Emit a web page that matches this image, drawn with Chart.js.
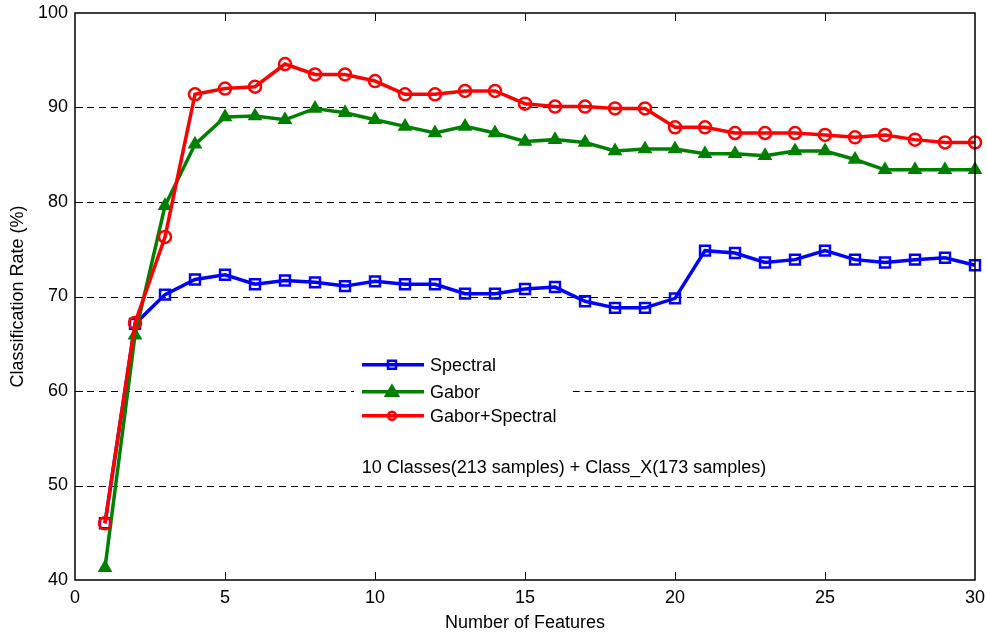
<!DOCTYPE html>
<html>
<head>
<meta charset="utf-8">
<script src="https://cdn.jsdelivr.net/npm/chart.js@4/dist/chart.umd.min.js"></script>
<style>
  html, body { margin: 0; padding: 0; background: #fff; }
  #wrap { width: 987px; height: 634px; }
</style>
</head>
<body>
<div id="wrap"><canvas id="chart" width="987" height="634"></canvas></div>
<script>
// Data
const features = [1,2,3,4,5,6,7,8,9,10,11,12,13,14,15,16,17,18,19,20,21,22,23,24,25,26,27,28,29,30];
const spectral = [46.0,67.1,70.2,71.8,72.3,71.3,71.7,71.5,71.1,71.6,71.3,71.3,70.3,70.3,70.8,71.0,69.5,68.8,68.8,69.8,74.85,74.6,73.6,73.9,74.85,73.9,73.6,73.9,74.1,73.3];
const gabor = [41.3,65.9,79.6,86.1,89.0,89.1,88.7,89.9,89.45,88.7,88.0,87.3,88.0,87.3,86.4,86.6,86.3,85.4,85.6,85.6,85.1,85.1,84.9,85.4,85.4,84.5,83.4,83.4,83.4,83.4];
const gaborSpectral = [46.0,67.2,76.3,91.4,92.0,92.2,94.6,93.5,93.5,92.8,91.4,91.4,91.75,91.75,90.4,90.1,90.1,89.9,89.9,87.9,87.9,87.3,87.3,87.3,87.1,86.85,87.1,86.6,86.3,86.3];
const xTicks = [0,5,10,15,20,25,30];
const yTicks = [40,50,60,70,80,90,100];
const gridValues = [50,60,70,80,90];
const seriesNames = ['Spectral', 'Gabor', 'Gabor+Spectral'];
const noteText = '10 Classes(213 samples) + Class_X(173 samples)';

const FONT = '"Liberation Sans", Arial, Helvetica, sans-serif';
const COLORS = ['#0000ff', '#008000', '#ff0000'];
const STYLES = ['rect', 'triangle', 'circle'];
const RADII = [7, 6, 6];

function toPoints(ys) {
    return features.map((x, i) => ({ x: x, y: ys[i] }));
}

// Draw the MATLAB-style frame, dashed grid, legend and note
const framePlugin = {
    id: 'frame',
    beforeDatasetsDraw(chart) {
        const ctx = chart.ctx;
        const a = chart.chartArea;
        const ys = chart.scales.y;
        const legendBox = getLegendBox(a);
        ctx.save();
        ctx.strokeStyle = '#000';
        ctx.lineWidth = 1;
        ctx.setLineDash([7, 5]);
        gridValues.forEach(v => {
            const py = Math.round(ys.getPixelForValue(v)) + 0.5;
            ctx.beginPath();
            if (py > legendBox.top && py < legendBox.bottom) {
                ctx.moveTo(a.left, py); ctx.lineTo(legendBox.left, py);
                ctx.moveTo(legendBox.right, py); ctx.lineTo(a.right, py);
            } else {
                ctx.moveTo(a.left, py); ctx.lineTo(a.right, py);
            }
            ctx.stroke();
        });
        ctx.restore();
    },
    afterDatasetsDraw(chart) {
        const ctx = chart.ctx;
        const a = chart.chartArea;
        const xs = chart.scales.x;
        const ys = chart.scales.y;
        ctx.save();
        ctx.strokeStyle = '#000';
        ctx.lineWidth = 1.5;
        ctx.setLineDash([]);
        ctx.strokeRect(a.left, a.top, a.right - a.left, a.bottom - a.top);

        // inward ticks on all four sides
        ctx.lineWidth = 1;
        const tl = 8;
        ctx.beginPath();
        xTicks.slice(1, -1).forEach(v => {
            const px = Math.round(xs.getPixelForValue(v)) + 0.5;
            ctx.moveTo(px, a.bottom); ctx.lineTo(px, a.bottom - tl);
            ctx.moveTo(px, a.top); ctx.lineTo(px, a.top + tl);
        });
        yTicks.slice(1, -1).forEach(v => {
            const py = Math.round(ys.getPixelForValue(v)) + 0.5;
            ctx.moveTo(a.left, py); ctx.lineTo(a.left + tl, py);
            ctx.moveTo(a.right, py); ctx.lineTo(a.right - tl, py);
        });
        ctx.stroke();

        // legend
        const lb = getLegendBox(a);
        ctx.fillStyle = '#fff';
        ctx.fillRect(lb.left, lb.top, lb.right - lb.left, lb.bottom - lb.top);
        ctx.font = '18px ' + FONT;
        ctx.textBaseline = 'middle';
        ctx.textAlign = 'left';
        const rows = [lb.top + 13, lb.top + 40, lb.top + 64];
        seriesNames.forEach((name, i) => {
            const y = rows[i];
            ctx.strokeStyle = COLORS[i];
            ctx.lineWidth = 3.5;
            ctx.beginPath();
            ctx.moveTo(lb.left + 8, y); ctx.lineTo(lb.left + 70, y);
            ctx.stroke();
            const mx = lb.left + 38;
            ctx.lineWidth = 2.5;
            ctx.beginPath();
            if (i === 0) {
                ctx.rect(mx - 4, y - 4, 8, 8);
                ctx.stroke();
            } else if (i === 1) {
                ctx.fillStyle = COLORS[i];
                ctx.moveTo(mx, y - 6); ctx.lineTo(mx + 6, y + 4); ctx.lineTo(mx - 6, y + 4);
                ctx.closePath();
                ctx.fill(); ctx.stroke();
            } else {
                ctx.arc(mx, y, 4, 0, Math.PI * 2);
                ctx.stroke();
            }
            ctx.fillStyle = '#000';
            ctx.fillText(name, lb.left + 76, y + 1);
        });

        // note
        ctx.textAlign = 'center';
        ctx.fillText(noteText, a.left + (a.right - a.left) * 0.5433, a.top + (a.bottom - a.top) * 0.8025);
        ctx.restore();
    }
};

function getLegendBox(a) {
    const w = a.right - a.left;
    const h = a.bottom - a.top;
    return {
        left: a.left + w * 0.3100,
        right: a.left + w * 0.5530,
        top: a.top + h * 0.5975,
        bottom: a.top + h * 0.7340
    };
}

const ctx = document.getElementById('chart').getContext('2d');
new Chart(ctx, {
    type: 'line',
    data: {
        datasets: [spectral, gabor, gaborSpectral].map((ys, i) => ({
            label: seriesNames[i],
            data: toPoints(ys),
            borderColor: COLORS[i],
            backgroundColor: i === 1 ? COLORS[i] : 'rgba(0,0,0,0)',
            borderWidth: 3.5,
            pointStyle: STYLES[i],
            pointRadius: RADII[i],
            pointBorderWidth: 2.5,
            pointBackgroundColor: i === 1 ? COLORS[i] : 'rgba(0,0,0,0)',
            pointBorderColor: COLORS[i],
            tension: 0,
            clip: false,
            order: 2 - i
        }))
    },
    options: {
        responsive: false,
        animation: false,
        events: [],
        layout: { padding: { top: 13, right: 12, left: 0, bottom: 0 } },
        plugins: {
            legend: { display: false },
            tooltip: { enabled: false }
        },
        scales: {
            x: {
                type: 'linear',
                min: 0,
                max: 30,
                afterBuildTicks(scale) { scale.ticks = xTicks.map(v => ({ value: v })); },
                afterFit(scale) {
                    scale.height = 54;
                    scale.paddingLeft = 0;
                    scale.paddingRight = 0;
                },
                grid: { display: false, drawTicks: false },
                border: { display: false },
                ticks: { color: '#000', padding: 7, font: { family: FONT, size: 18 } },
                title: {
                    display: true,
                    text: 'Number of Features',
                    color: '#000',
                    padding: { top: 0, bottom: 0 },
                    font: { family: FONT, size: 18 }
                }
            },
            y: {
                min: 40,
                max: 100,
                afterBuildTicks(scale) { scale.ticks = yTicks.map(v => ({ value: v })); },
                afterFit(scale) {
                    scale.width = 75;
                    scale.paddingTop = 0;
                    scale.paddingBottom = 0;
                },
                grid: { display: false, drawTicks: false },
                border: { display: false },
                ticks: { color: '#000', padding: 7, font: { family: FONT, size: 18 } },
                title: {
                    display: true,
                    text: 'Classification Rate (%)',
                    color: '#000',
                    padding: { top: 7, bottom: 0 },
                    font: { family: FONT, size: 18 }
                }
            }
        }
    },
    plugins: [framePlugin]
});
</script>
</body>
</html>
